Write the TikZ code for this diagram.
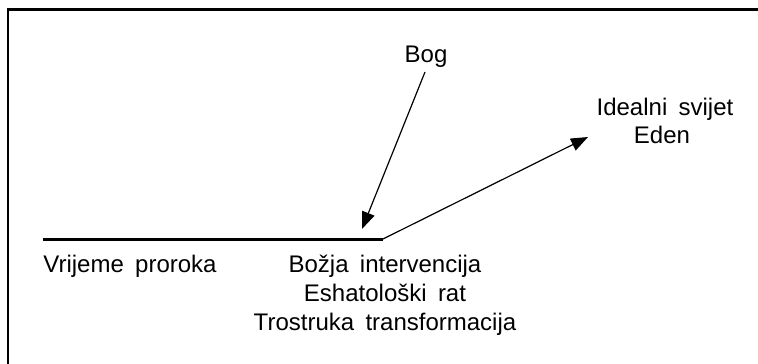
\documentclass[tikz,border=0pt]{standalone}
\usepackage{fontspec}
\setmainfont{Liberation Sans}[WordSpace=1.7]
\usetikzlibrary{arrows.meta}
\tikzset{
	natpis/.style={inner sep=0pt, font=\fontsize{24}{29}\selectfont},
	strelica/.style={line width=1.2pt, -{Triangle[length=17pt,width=13pt]}},
}

\begin{document}
\begin{tikzpicture}[x=1pt,y=-1pt]
	\useasboundingbox (0,0) rectangle (758,364);
	\draw[line width=2.5pt] (8,364) -- (8,9.3) -- (758,9.3);
	
	\coordinate (pocetak) at (43,239);
	\coordinate (kraj) at (383,239);
	\coordinate (bogvrh) at (425,72);
	\coordinate (udar) at (362,229);
	\coordinate (edenvrh) at (588,137);
	
	\node[natpis, anchor=base] (bog) at (426,62) {Bog};
	\node[natpis, anchor=base] (ideal) at (665,115) {Idealni svijet};
	\node[natpis, anchor=base] (eden) at (662,143) {Eden};
	\node[natpis, anchor=base] (proroci) at (130,272) {Vrijeme proroka};
	\foreach \tekst [count=\i] in {Božja intervencija, Eshatološki rat, Trostruka transformacija} {
		\node[natpis, anchor=base] (dogadjaj\i) at (385,{272+29*(\i-1)}) {\tekst};
	}
	
	\draw[line width=3pt] (pocetak) -- (kraj);
	\draw[strelica] (bogvrh) -- (udar);
	\draw[strelica] (kraj) -- (edenvrh);
\end{tikzpicture}
\end{document}
